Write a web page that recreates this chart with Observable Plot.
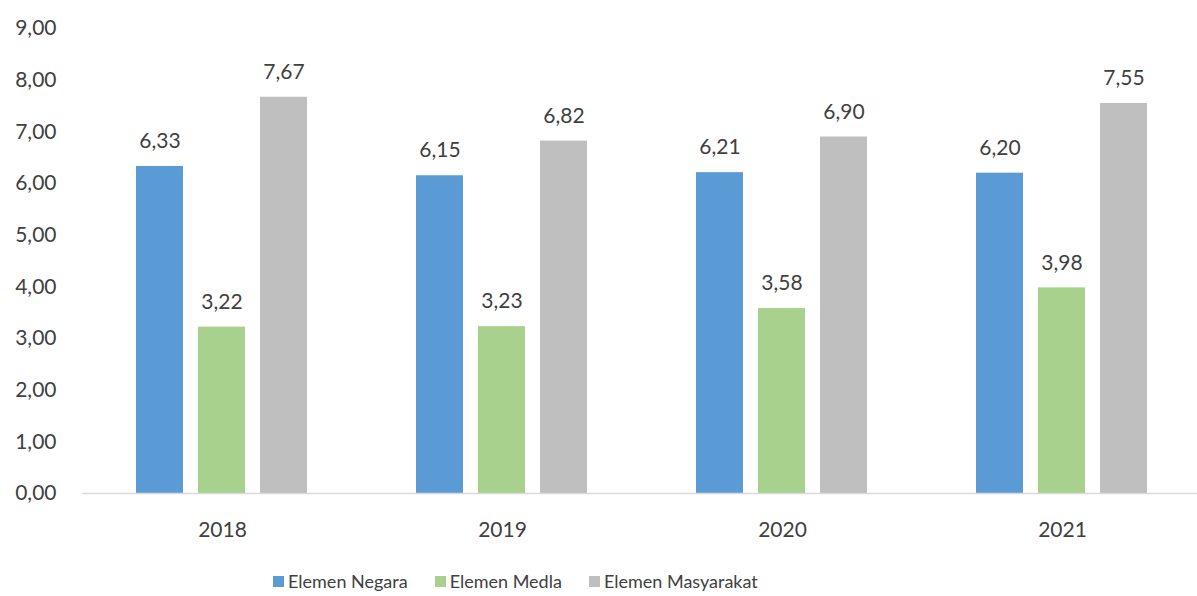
<!DOCTYPE html>
<html>
<head>
<meta charset="utf-8">
<script src="https://cdn.jsdelivr.net/npm/d3@7"></script>
<script src="https://cdn.jsdelivr.net/npm/@observablehq/plot@0.6"></script>
<style>
  html, body { margin: 0; padding: 0; background: #fff; }
  body { width: 1197px; height: 596px; overflow: hidden; font-family: Lato, "Open Sans", sans-serif; color: #404040; }
  #chart svg { display: block; }
  #legend { display: flex; align-items: center; height: 30px; padding-top: 11px; padding-left: 273px; font-size: 18px; color: #404040; }
  .item { display: flex; align-items: center; margin-right: 27px; }
  .sw { width: 11px; height: 11px; margin-right: 4px; }
</style>
</head>
<body>
<div id="chart"></div>
<div id="legend"></div>
<script>
const years = ["2018", "2019", "2020", "2021"];
const seriesNames = ["Elemen Negara", "Elemen Medla", "Elemen Masyarakat"];
const negara = [6.33, 6.15, 6.21, 6.20];
const media = [3.22, 3.23, 3.58, 3.98];
const masyarakat = [7.67, 6.82, 6.90, 7.55];
const colors = ["#5B9BD5", "#A9D18E", "#BFBFBF"];
const yTicks = [0, 1, 2, 3, 4, 5, 6, 7, 8, 9];

const seriesValues = [negara, media, masyarakat];
const data = [];
years.forEach((yr, i) => {
  seriesNames.forEach((s, j) => data.push({year: yr, series: s, value: seriesValues[j][i]}));
});
const fmt = d => d.toFixed(2).replace(".", ",");

const chart = Plot.plot({
  width: 1197,
  height: 555,
  marginLeft: 80,
  marginRight: 0,
  marginTop: 28,
  marginBottom: 62,
  style: {fontFamily: "Lato, 'Open Sans', sans-serif", fontSize: "21px", color: "#404040", background: "#fff"},
  fx: {domain: years, range: [82, 1202], padding: 0, label: null, tickSize: 0, tickPadding: 29},
  x: {domain: seriesNames, paddingInner: 0.234, paddingOuter: 0.875, axis: null},
  y: {domain: [0, 9], ticks: yTicks, tickFormat: fmt, tickSize: 0, tickPadding: 26, label: null},
  color: {domain: seriesNames, range: colors},
  marks: [
    Plot.barY(data, {fx: "year", x: "series", y: "value", fill: "series"}),
    Plot.text(data, {fx: "year", x: "series", y: "value", text: d => fmt(d.value), dy: -25, fill: "#404040", fontSize: 21}),
    Plot.ruleY([0], {stroke: "#D9D9D9", strokeWidth: 1.5})
  ]
});
document.getElementById("chart").appendChild(chart);

const legend = document.getElementById("legend");
seriesNames.forEach((s, j) => {
  const item = document.createElement("div");
  item.className = "item";
  const sw = document.createElement("div");
  sw.className = "sw";
  sw.style.background = colors[j];
  const label = document.createElement("span");
  label.textContent = s;
  item.appendChild(sw);
  item.appendChild(label);
  legend.appendChild(item);
});
</script>
</body>
</html>
